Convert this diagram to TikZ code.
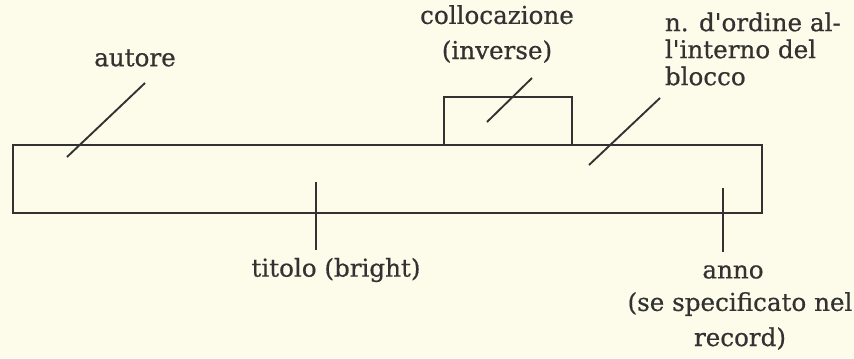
\documentclass[tikz,border=0pt]{standalone}
\usepackage{fontspec}
\setmainfont{DejaVu Serif}
\newfontfamily\lblfont{DejaVu Serif}[FakeBold=0.6]
\definecolor{paper}{RGB}{253,251,233}
\definecolor{ink}{RGB}{50,50,50}

\begin{document}
\begin{tikzpicture}[x=0.03cm, y=-0.03cm, line width=1.6pt, draw=ink,
    lbl/.style={text=ink, inner sep=0pt, font=\lblfont\fontsize{21}{30}\selectfont}]
  % background and page size
  \fill[paper] (0,0) rectangle (854,358);
  \useasboundingbox (0,0) rectangle (854,358);

  % record and the small box on top
  \coordinate (R1) at (13,145);
  \coordinate (R2) at (762,213);
  \draw (R1) rectangle (R2);
  \draw (444,145) -- (444,97) -- (572,97) -- (572,145);

  % labels
  \node[lbl] (autore) at (135,58) {autore};
  \node[lbl, align=center] (coll) at (497,34) {collocazione\\(inverse)};
  \node[lbl, anchor=west] (ord1) at (664,22) {n. d'ordine al-};
  \node[lbl, anchor=west] (ord2) at (664,49) {l'interno del};
  \node[lbl, anchor=west] (ord3) at (664,76) {blocco};
  \node[lbl] (titolo) at (336,270) {titolo (bright)};
  \node[lbl] (anno) at (733,272) {anno};
  \node[lbl, align=center] (spec) at (740,321) {(se specificato nel\\record)};

  % leader lines
  \coordinate (a1) at (145,83);  \coordinate (a2) at (67,157);
  \coordinate (c1) at (532,78);  \coordinate (c2) at (487,122);
  \coordinate (o1) at (660,98);  \coordinate (o2) at (589,165);
  \coordinate (t1) at (316,182); \coordinate (t2) at (316,250);
  \coordinate (y1) at (723,188); \coordinate (y2) at (723,252);
  \draw (a1) -- (a2);
  \draw (c1) -- (c2);
  \draw (o1) -- (o2);
  \draw (t1) -- (t2);
  \draw (y1) -- (y2);
\end{tikzpicture}
\end{document}
